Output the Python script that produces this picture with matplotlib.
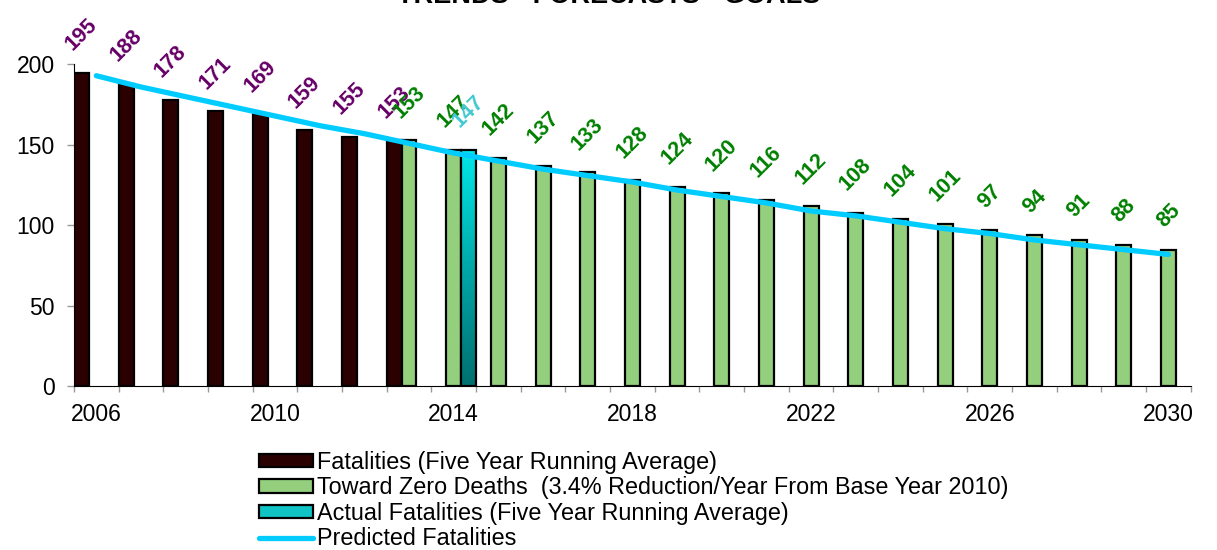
import numpy as np
import matplotlib
matplotlib.use('Agg')
import matplotlib.pyplot as plt
from matplotlib.colors import LinearSegmentedColormap
from matplotlib.patches import Patch
from matplotlib.lines import Line2D

plt.rcParams['font.family'] = ['Liberation Sans', 'DejaVu Sans']

# data
years = list(range(2006, 2031))
fatality_years = [2006, 2007, 2008, 2009, 2010, 2011, 2012, 2013]
fatality_values = [195, 188, 178, 171, 169, 159, 155, 153]
tzd_years = list(range(2013, 2031))
tzd_values = [153, 147, 142, 137, 133, 128, 124, 120, 116, 112, 108, 104, 101, 97, 94, 91, 88, 85]
actual_years = [2014]
actual_values = [147]
predicted_values = [193, 186, 180, 174, 168, 162, 157, 151, 145, 140, 135, 131, 127,
                    122, 118, 114, 109, 106, 102, 98, 95, 91, 88, 85, 82]
tick_years = [2006, 2010, 2014, 2018, 2022, 2026, 2030]

DARK = '#2B0000'
GREEN = '#93CF7D'
LINE = '#00CCFF'
W = 1 / 3

fig = plt.figure(figsize=(12.17, 5.5), dpi=100)
ax = fig.add_axes([74 / 1217, 0.2973, (1190.8 - 74) / 1217, 0.5855])

def pos(yrs, offset):
    return [years.index(y) + offset for y in yrs]

def label_bars(xs, vals, color):
    for x, v in zip(xs, vals):
        ax.annotate(str(v), (x, v), xytext=(0, 13), textcoords='offset points',
                    ha='center', va='bottom', rotation=45, fontsize=15.5,
                    fontweight='bold', color=color, annotation_clip=False)

x_dark = pos(fatality_years, -W)
x_green = pos(tzd_years, 0)
x_cyan = pos(actual_years, W)

ax.bar(x_dark, fatality_values, width=W, color=DARK, edgecolor='black', linewidth=1.6, zorder=2)
ax.bar(x_green, tzd_values, width=W, color=GREEN, edgecolor='black', linewidth=1.6, zorder=2)

# gradient bar for actual fatalities
grad = LinearSegmentedColormap.from_list('tealgrad', ['#007070', '#00A8A8', '#00E8E8'])
for x, v in zip(x_cyan, actual_values):
    bar = ax.bar([x], [v], width=W, color='none', edgecolor='black', linewidth=1.6, zorder=3)[0]
    img = ax.imshow(np.linspace(0, 1, 100).reshape(-1, 1), cmap=grad, origin='lower',
                    extent=[x - W / 2, x + W / 2, 0, v], aspect='auto', zorder=2)
    img.set_clip_path(bar)

ax.plot(range(len(years)), predicted_values, color=LINE, linewidth=3.8,
        solid_capstyle='round', zorder=4)

label_bars(x_dark, fatality_values, '#660066')
label_bars(x_green, tzd_values, '#008000')
label_bars(x_cyan, actual_values, '#40C8D0')

ax.set_xlim(-0.5, len(years) - 0.5)
ax.set_ylim(0, 200)
ax.set_yticks([0, 50, 100, 150, 200])
ax.set_xticks([years.index(y) for y in tick_years])
ax.set_xticklabels([str(y) for y in tick_years])
ax.set_xticks(np.arange(-0.5, len(years)), minor=True)
ax.tick_params(axis='x', which='major', length=0, pad=12, labelsize=16.5)
ax.tick_params(axis='x', which='minor', length=4, width=1, color='#999999')
ax.tick_params(axis='y', length=5, width=1, color='#999999', pad=9, labelsize=16.5)

for s in ['top', 'right']:
    ax.spines[s].set_visible(False)
ax.spines['left'].set_color('black')
ax.spines['bottom'].set_color('black')

fig.text(0.5, 1 - 3 / 550, 'TRENDS - FORECASTS - GOALS', ha='center', va='baseline',
         fontsize=19.5, fontweight='bold')

handles = [
    Patch(facecolor=DARK, edgecolor='black', linewidth=1.6),
    Patch(facecolor=GREEN, edgecolor='black', linewidth=1.6),
    Patch(facecolor='#10C4C6', edgecolor='black', linewidth=1.6),
    Line2D([], [], color=LINE, linewidth=3.8, solid_capstyle='round'),
]
labels = [
    'Fatalities (Five Year Running Average)',
    'Toward Zero Deaths  (3.4% Reduction/Year From Base Year 2010)',
    'Actual Fatalities (Five Year Running Average)',
    'Predicted Fatalities',
]
fig.legend(handles, labels, loc='upper left', bbox_to_anchor=(259 / 1217, 1 - 451 / 550),
           frameon=False, fontsize=16.8, borderpad=0, borderaxespad=0, handlelength=2.3,
           handleheight=0.5, handletextpad=0.2, labelspacing=0.1)

fig.savefig('out.png', dpi=100)
